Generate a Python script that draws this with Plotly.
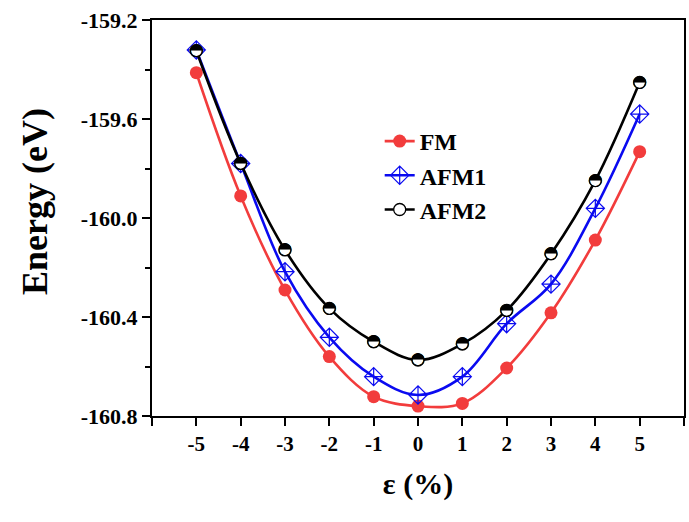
import plotly.graph_objects as go

# ---- data ----
strain = [-5, -4, -3, -2, -1, 0, 1, 2, 3, 4, 5]
fm = [-159.413, -159.911, -160.291, -160.560, -160.722, -160.760,
      -160.749, -160.606, -160.383, -160.089, -159.732]
afm1 = [-159.321, -159.780, -160.217, -160.482, -160.641, -160.715,
        -160.641, -160.427, -160.267, -159.961, -159.580]
afm2 = [-159.324, -159.779, -160.129, -160.365, -160.500, -160.574,
        -160.509, -160.373, -160.145, -159.849, -159.452]

x_tickvals = [-6, -5, -4, -3, -2, -1, 0, 1, 2, 3, 4, 5, 6]
x_ticktext = ["", "-5", "-4", "-3", "-2", "-1", "0", "1", "2", "3", "4", "5", ""]
y_tickvals = [-160.8, -160.4, -160.0, -159.6, -159.2]
y_ticktext = ["-160.8", "-160.4", "-160.0", "-159.6", "-159.2"]

SERIF = "Liberation Serif"
RED = "#f23c3c"
BLUE = "#0a0af0"

fig = go.Figure()

fig.add_trace(go.Scatter(
    x=strain, y=fm, name="FM", mode="lines+markers", legendgroup="a",
    line=dict(color=RED, width=2.6, shape="spline", smoothing=1.0),
    marker=dict(symbol="circle", size=13, color=RED, line=dict(width=0)),
))
fig.add_trace(go.Scatter(
    x=strain, y=afm1, name="AFM1", mode="lines+markers", legendgroup="b",
    line=dict(color=BLUE, width=2.6, shape="spline", smoothing=1.0),
    marker=dict(symbol="diamond-cross-open", size=14, color=BLUE,
                line=dict(width=1.2, color=BLUE)),
))
fig.add_trace(go.Scatter(
    x=strain, y=afm2, name="AFM2", mode="lines+markers", legendgroup="c",
    line=dict(color="black", width=2.6, shape="spline", smoothing=1.0),
    marker=dict(symbol="circle", size=12, color="white",
                line=dict(width=1.3, color="black")),
))
# half-filled circle glyphs for AFM2
fig.add_trace(go.Scatter(
    x=strain, y=afm2, mode="text", text=["\u25d3"] * len(strain),
    textposition="middle center", showlegend=False, hoverinfo="skip",
    textfont=dict(family="DejaVu Sans", size=17, color="black"),
))

fig.update_layout(
    width=689, height=522,
    margin=dict(l=152, r=5, t=20, b=106),
    paper_bgcolor="white", plot_bgcolor="white",
    font=dict(family=SERIF, size=20, color="black", weight="bold"),
    showlegend=True,
    legend=dict(x=0.428, y=0.75, xanchor="left", yanchor="top",
                bgcolor="rgba(0,0,0,0)", tracegroupgap=0,
                font=dict(family=SERIF, size=24, color="black", weight="bold")),
    xaxis=dict(
        range=[-6, 6], tickvals=x_tickvals, ticktext=x_ticktext,
        ticks="outside", ticklen=8, tickwidth=1.5, tickcolor="black",
        showline=True, linecolor="black", linewidth=2, mirror=True,
        showgrid=False, zeroline=False, automargin=False,
        tickfont=dict(family=SERIF, size=21, weight="bold"),
        title=dict(text="\u03b5 (%)", standoff=18,
                   font=dict(family=SERIF, size=30, weight="bold")),
    ),
    yaxis=dict(
        range=[-160.8, -159.2], tickvals=y_tickvals, ticktext=y_ticktext,
        ticks="outside", ticklen=8, tickwidth=1.5, tickcolor="black",
        minor=dict(dtick=0.2, tick0=-160.8, ticks="outside", ticklen=5,
                   tickwidth=1.5, tickcolor="black", showgrid=False),
        showline=True, linecolor="black", linewidth=2, mirror=True,
        showgrid=False, zeroline=False, automargin=False,
        tickfont=dict(family=SERIF, size=22, weight="bold"),
    ),
    annotations=[dict(
        text="Energy (eV)", textangle=-90, showarrow=False,
        xref="paper", yref="paper", x=-0.22, y=0.543,
        xanchor="center", yanchor="middle",
        font=dict(family=SERIF, size=36, weight="bold", color="black"),
    )],
)

fig.write_html("out.html", config={"displayModeBar": False},
               post_script="document.body.style.margin='0';")
